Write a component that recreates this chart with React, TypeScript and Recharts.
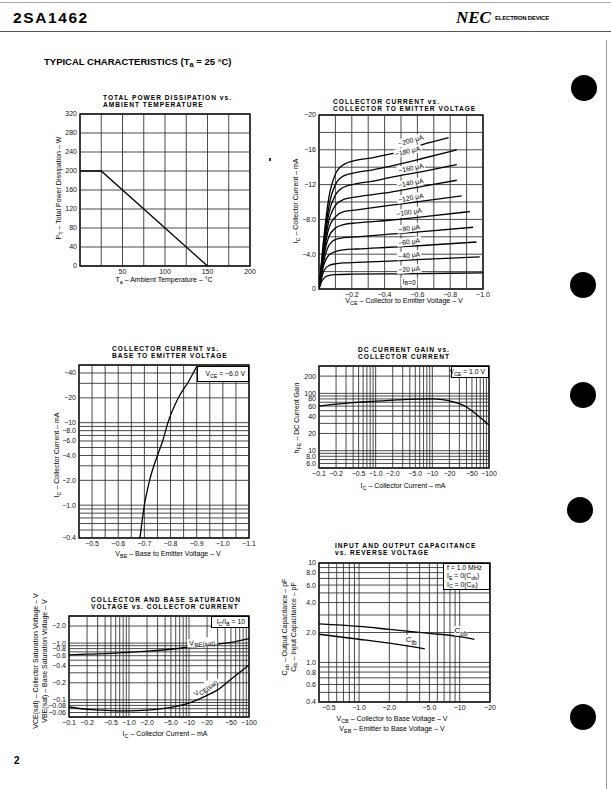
import React from "react";
import {
  ComposedChart,
  Line,
  XAxis,
  YAxis,
  ReferenceLine,
  ReferenceArea,
  ReferenceDot,
} from "recharts";

const FONT = '"Liberation Sans", Arial, Helvetica, sans-serif';

// NOTE: the device is PNP, every current/voltage on the sheet is negative.
// Values are kept as magnitudes and the tick labels carry the minus sign.

// ---- total power dissipation vs. ambient temperature
const TA_PT: [number, number][] = [[0, 200], [25, 200], [150, 0]];
const TA_TICKS = [50, 100, 150, 200];
const PT_TICKS = [0, 40, 80, 120, 160, 200, 240, 280, 320];
const TA_GRID = [0, 25, 50, 75, 100, 125, 150, 175, 200];

// ---- collector current vs. collector to emitter voltage
const VCE_TICKS = [0.2, 0.4, 0.6, 0.8, 1.0];
const VCE_LABELS = ["−0.2", "−0.4", "−0.6", "−0.8", "−1.0"];
const IC_TICKS = [0, 4, 8, 12, 16, 20];
const IC_LABELS = ["0", "−4.0", "−8.0", "−12", "−16", "−20"];
const VCE_GRID = [0, 0.1, 0.2, 0.3, 0.4, 0.5, 0.6, 0.7, 0.8, 0.9, 1.0];
const IC_GRID = [0, 2, 4, 6, 8, 10, 12, 14, 16, 18, 20];

const IB200: [number, number][] = [[0, 0], [0.03, 6], [0.06, 10.5], [0.1, 13.2], [0.15, 14.3], [0.23, 14.8], [0.33, 15.1], [0.43, 15.5], [0.63, 16.6], [0.79, 17.4]];
const IB180: [number, number][] = [[0, 0], [0.03, 5.5], [0.06, 9.5], [0.1, 12.0], [0.15, 13.0], [0.23, 13.4], [0.33, 13.7], [0.43, 14.1], [0.63, 15.0], [0.84, 16.0]];
const IB160: [number, number][] = [[0, 0], [0.03, 5], [0.06, 8.7], [0.1, 10.8], [0.15, 11.7], [0.23, 12.1], [0.33, 12.4], [0.43, 12.8], [0.63, 13.5], [0.84, 14.3]];
const IB140: [number, number][] = [[0, 0], [0.03, 4.6], [0.06, 7.8], [0.1, 9.6], [0.15, 10.3], [0.23, 10.6], [0.43, 11.1], [0.63, 11.8], [0.84, 12.5]];
const IB120: [number, number][] = [[0, 0], [0.03, 4.2], [0.06, 7], [0.1, 8.3], [0.15, 8.9], [0.23, 9.1], [0.43, 9.6], [0.63, 10.1], [0.87, 10.7]];
const IB100: [number, number][] = [[0, 0], [0.03, 3.8], [0.06, 6], [0.1, 7], [0.15, 7.4], [0.23, 7.6], [0.43, 7.9], [0.63, 8.3], [0.92, 8.9]];
const IB80: [number, number][] = [[0, 0], [0.03, 3.3], [0.06, 5], [0.1, 5.7], [0.15, 5.9], [0.23, 6.0], [0.43, 6.3], [0.63, 6.6], [0.94, 7.1]];
const IB60: [number, number][] = [[0, 0], [0.03, 2.8], [0.06, 3.9], [0.1, 4.3], [0.15, 4.5], [0.23, 4.6], [0.43, 4.8], [0.63, 5.0], [0.96, 5.4]];
const IB40: [number, number][] = [[0, 0], [0.03, 2.1], [0.06, 2.7], [0.1, 2.9], [0.15, 3.0], [0.23, 3.05], [0.43, 3.2], [0.63, 3.4], [0.98, 3.7]];
const IB20: [number, number][] = [[0, 0], [0.02, 1.0], [0.04, 1.4], [0.07, 1.6], [0.1, 1.65], [0.2, 1.7], [0.5, 1.75], [1.0, 1.85]];
const IB_CURVES = [IB200, IB180, IB160, IB140, IB120, IB100, IB80, IB60, IB40, IB20];
const IB_NAMES = ["−200 μA", "−180 μA", "−160 μA", "−140 μA", "−120 μA", "−100 μA", "−80 μA", "−60 μA", "−40 μA", "−20 μA"];
const IB_TAG_AT: [number, number][] = [[0.56, 17.1], [0.54, 15.85], [0.56, 13.9], [0.56, 12.2], [0.56, 10.5], [0.55, 8.85], [0.55, 7.0], [0.55, 5.45], [0.55, 3.9], [0.55, 2.3]];
const IB_TAG_ROT = [-15, -13, -12, -11, -10, -9, -8, -7, -6, -4];

// ---- collector current vs. base to emitter voltage (VCE = -6.0 V)
const VBE_IC: [number, number][] = [[0.683, 0.4], [0.7, 1.0], [0.72, 2.0], [0.75, 4.0], [0.77, 6.0], [0.79, 10], [0.83, 20], [0.87, 32], [0.9, 48]];
const VBE_TICKS = [0.5, 0.6, 0.7, 0.8, 0.9, 1.0, 1.1];
const VBE_LABELS = ["−0.5", "−0.6", "−0.7", "−0.8", "−0.9", "−1.0", "−1.1"];
const VBE_GRID = [0.45, 0.5, 0.55, 0.6, 0.65, 0.7, 0.75, 0.8, 0.85, 0.9, 0.95, 1.0, 1.05, 1.1];
const IC3_TICKS = [0.4, 1, 2, 4, 6, 8, 10, 20, 40];
const IC3_LABELS = ["−0.4", "−1.0", "−2.0", "−4.0", "−6.0", "−8.0", "−10", "−20", "−40"];

// ---- DC current gain vs. collector current (VCE = 1.0 V)
const IC_HFE: [number, number][] = [[0.1, 60], [0.2, 65], [0.35, 68], [0.5, 70], [1, 73], [2, 76], [3, 78], [5, 79.5], [10, 80], [15, 78], [20, 74], [30, 66], [40, 58], [60, 43], [80, 34], [100, 28]];
const IC_LOG_TICKS = [0.1, 0.2, 0.5, 1, 2, 5, 10, 20, 50, 100];
const IC_LOG_LABELS = ["−0.1", "−0.2", "−0.5", "−1.0", "−2.0", "−5.0", "−10", "−20", "−50", "−100"];
const HFE_TICKS = [6, 8, 10, 20, 40, 60, 80, 100, 200];
const HFE_LABELS = ["6.0", "8.0", "10", "20", "40", "60", "80", "100", "200"];

// ---- saturation voltages vs. collector current (IC/IB = 10)
const VBE_SAT: [number, number][] = [[0.1, 0.62], [0.2, 0.64], [0.5, 0.66], [1, 0.69], [2, 0.72], [5, 0.78], [10, 0.85], [20, 0.92], [50, 1.03], [100, 1.2]];
const VCE_SAT: [number, number][] = [[0.1, 0.075], [0.2, 0.068], [0.5, 0.065], [1, 0.064], [2, 0.066], [5, 0.074], [10, 0.088], [20, 0.12], [30, 0.15], [50, 0.23], [100, 0.41]];
const VSAT_TICKS = [0.06, 0.08, 0.1, 0.2, 0.4, 0.6, 0.8, 1, 2];
const VSAT_LABELS = ["−0.06", "−0.08", "−0.1", "−0.2", "−0.4", "−0.6", "−0.8", "−1.0", "−2.0"];

// ---- input / output capacitance vs. reverse voltage
const COB: [number, number][] = [[0.4, 2.44], [1, 2.3], [2, 2.15], [5, 1.96], [10, 1.82], [14, 1.71]];
const CIB: [number, number][] = [[0.4, 1.92], [1, 1.71], [2, 1.56], [4.5, 1.37]];
const VR_TICKS = [0.5, 1, 2, 5, 10, 20];
const VR_LABELS = ["−0.5", "−1.0", "−2.0", "−5.0", "−10", "−20"];
const CAP_TICKS = [0.4, 0.6, 0.8, 1, 2, 4, 6, 8, 10];
const CAP_LABELS = ["0.4", "0.6", "0.8", "1.0", "2.0", "4.0", "6.0", "8.0", "10"];

// log paper lines 1..9 per decade
const logGrid = (lo: number, hi: number) => {
  const out: number[] = [];
  for (let e = -3; e <= 3; e++)
    for (let m = 1; m <= 9; m++) {
      const v = Number((m * Math.pow(10, e)).toPrecision(6));
      if (v >= lo - 1e-9 && v <= hi + 1e-9) out.push(v);
    }
  return out;
};

const xy = (a: [number, number][]) => a.map(([x, y]) => ({ x, y }));

type Rect = { x: number; y: number; w: number; h: number };
type AxisSpec = {
  domain: [number, number];
  log?: boolean;
  ticks: number[];
  labels?: string[];
  grid: number[];
};

const YW = 36;
const XH = 14;
const PAD = { L: 44, T: 8, R: 14, B: 20 };

function Plot({ r, xa, ya, children }: { r: Rect; xa: AxisSpec; ya: AxisSpec; children?: React.ReactNode }) {
  const fmt = (a: AxisSpec) => (v: number) => {
    const i = a.ticks.indexOf(v);
    return a.labels && i >= 0 ? a.labels[i] : String(v);
  };
  const tick = { fontSize: 7, fill: "#111", fontFamily: FONT };
  return (
    <div style={{ position: "absolute", left: r.x - PAD.L, top: r.y - PAD.T }}>
      <ComposedChart
        width={r.w + PAD.L + PAD.R}
        height={r.h + PAD.T + PAD.B}
        margin={{ left: PAD.L - YW, top: PAD.T, right: PAD.R, bottom: PAD.B - XH }}
      >
        <XAxis
          type="number"
          dataKey="x"
          domain={xa.domain}
          scale={xa.log ? "log" : "linear"}
          allowDataOverflow
          ticks={xa.ticks}
          interval={0}
          tickFormatter={fmt(xa)}
          axisLine={false}
          tickLine={false}
          tickSize={2}
          tickMargin={1}
          height={XH}
          tick={tick}
        />
        <YAxis
          type="number"
          dataKey="y"
          domain={ya.domain}
          scale={ya.log ? "log" : "linear"}
          allowDataOverflow
          ticks={ya.ticks}
          interval={0}
          tickFormatter={fmt(ya)}
          axisLine={false}
          tickLine={false}
          tickSize={2}
          tickMargin={1}
          width={YW}
          tick={tick}
        />
        {xa.grid.map((v) => (
          <ReferenceLine key={"gx" + v} x={v} stroke="#2a2a2a" strokeWidth={0.85} />
        ))}
        {ya.grid.map((v) => (
          <ReferenceLine key={"gy" + v} y={v} stroke="#2a2a2a" strokeWidth={0.85} />
        ))}
        <ReferenceArea
          x1={xa.domain[0]}
          x2={xa.domain[1]}
          y1={ya.domain[0]}
          y2={ya.domain[1]}
          fill="none"
          fillOpacity={0}
          stroke="#000"
          strokeWidth={1.4}
        />
        {children}
      </ComposedChart>
    </div>
  );
}

// text placed on a data point (via ReferenceDot label), white patch behind it
function Tag(props: any) {
  const { viewBox, main, sub = "", tail = "", size = 6.8, subScale = 0.8, rot = 0, bg = true } = props;
  if (!viewBox) return null;
  const cx = viewBox.x + viewBox.width / 2;
  const cy = viewBox.y + viewBox.height / 2;
  const w = (main.length + sub.length * subScale + tail.length) * size * 0.55 + 2;
  return (
    <g transform={`rotate(${rot}, ${cx}, ${cy})`}>
      {bg ? <rect x={cx - w / 2} y={cy - size * 0.6} width={w} height={size * 1.2} fill="#fff" /> : null}
      <text
        x={cx}
        y={cy}
        textAnchor="middle"
        dominantBaseline="central"
        fontSize={size}
        fontFamily={FONT}
        fill="#000"
      >
        {main}
        {sub ? (
          <tspan fontSize={size * subScale} dy={size * 0.25}>
            {sub}
          </tspan>
        ) : null}
        {tail ? (
          <tspan fontSize={size} dy={-size * 0.25}>
            {tail}
          </tspan>
        ) : null}
      </text>
    </g>
  );
}

const curve = (key: string, pts: [number, number][], type: "monotone" | "linear" = "monotone") => (
  <Line
    key={key}
    data={xy(pts)}
    dataKey="y"
    type={type}
    stroke="#000"
    strokeWidth={1.3}
    dot={false}
    activeDot={false}
    isAnimationActive={false}
  />
);

const tag = (key: string, x: number, y: number, el: React.ReactElement) => (
  <ReferenceDot key={key} x={x} y={y} r={0} fill="none" stroke="none" label={el} />
);

const S = ({ children }: { children: React.ReactNode }) => (
  <span style={{ fontSize: "0.78em", position: "relative", top: "0.3em" }}>{children}</span>
);

function T({ x, y, children, size = 6.5, bold = false, ls = 0, center = false }: any) {
  return (
    <div
      style={{
        position: "absolute",
        left: x,
        top: y,
        fontSize: size,
        fontWeight: bold ? 700 : 400,
        letterSpacing: ls,
        whiteSpace: "nowrap",
        lineHeight: 1,
        fontFamily: FONT,
        transform: center ? "translateX(-50%)" : undefined,
      }}
    >
      {children}
    </div>
  );
}

function VT({ cx, cy, children, size = 7 }: any) {
  return (
    <div
      style={{
        position: "absolute",
        left: cx,
        top: cy,
        transform: "translate(-50%, -50%) rotate(-90deg)",
        fontSize: size,
        lineHeight: 1.25,
        whiteSpace: "nowrap",
        fontFamily: FONT,
        textAlign: "center",
      }}
    >
      {children}
    </div>
  );
}

function Title({ x, y, l1, l2 }: { x: number; y: number; l1: string; l2: string }) {
  return (
    <>
      <T x={x} y={y} bold size={6.6} ls={1}>{l1}</T>
      <T x={x} y={y + 7} bold size={6.6} ls={1}>{l2}</T>
    </>
  );
}

function Box({ x, y, w, h, children, align = "flex-end" }: any) {
  return (
    <div
      style={{
        position: "absolute",
        left: x,
        top: y,
        width: w,
        height: h,
        border: "1px solid #000",
        background: "#fff",
        boxSizing: "border-box",
        fontFamily: FONT,
        fontSize: 6.8,
        lineHeight: 1.2,
        padding: "0 3px",
        display: "flex",
        flexDirection: "column",
        justifyContent: "center",
        alignItems: align,
        whiteSpace: "nowrap",
      }}
    >
      {children}
    </div>
  );
}

const R1: Rect = { x: 80, y: 114, w: 170, h: 152 };
const R2: Rect = { x: 319, y: 115, w: 164, h: 174 };
const R3: Rect = { x: 79, y: 365, w: 170, h: 173 };
const R4: Rect = { x: 319, y: 366, w: 170, h: 102 };
const R5: Rect = { x: 69, y: 616, w: 180, h: 101 };
const R6: Rect = { x: 319, y: 563, w: 171, h: 139 };

const DOTS: [number, number][] = [[584, 88], [583, 285], [583, 395], [580, 510], [583, 717]];

export default function App() {
  return (
    <div
      style={{
        position: "absolute",
        left: 0,
        top: 0,
        width: 611,
        height: 789,
        background: "#fff",
        overflow: "hidden",
        fontFamily: FONT,
        color: "#000",
      }}
    >
      {/* page header */}
      <div style={{ position: "absolute", left: 0, top: 2, width: 611, height: 1, background: "#aaa" }} />
      <div style={{ position: "absolute", left: 0, top: 31, width: 611, height: 1, background: "#555" }} />
      <div style={{ position: "absolute", left: 13, top: 9, fontFamily: FONT, fontWeight: 700, fontSize: 15.5, letterSpacing: 1.6 }}>
        2SA1462
      </div>
      <div style={{ position: "absolute", left: 456, top: 8, fontFamily: '"Liberation Serif", serif', fontStyle: "italic", fontWeight: 700, fontSize: 17 }}>
        NEC
      </div>
      <T x={495} y={15} bold size={6} ls={-0.2}>ELECTRON DEVICE</T>
      <T x={44} y={57} bold size={9.5}>
        TYPICAL CHARACTERISTICS (T<S>a</S> = 25 °C)
      </T>
      <div style={{ position: "absolute", left: 606, top: 40, width: 1, height: 749, background: "#999" }} />
      {DOTS.map(([x, y]) => (
        <div key={"d" + y} style={{ position: "absolute", left: x - 13, top: y - 13, width: 26, height: 26, borderRadius: 13, background: "#000" }} />
      ))}
      <div style={{ position: "absolute", left: 269, top: 158, width: 2, height: 3, background: "#333" }} />
      <T x={14} y={756} bold size={10}>2</T>

      {/* 1: PT vs Ta */}
      <Title x={103} y={95} l1="TOTAL POWER DISSIPATION vs." l2="AMBIENT TEMPERATURE" />
      <Plot
        r={R1}
        xa={{ domain: [0, 200], ticks: TA_TICKS, grid: TA_GRID }}
        ya={{ domain: [0, 320], ticks: PT_TICKS, grid: PT_TICKS }}
      >
        {curve("pt", TA_PT, "linear")}
      </Plot>
      <T x={164} y={276} center size={7}>T<S>a</S> – Ambient Temperature – °C</T>
      <VT cx={59} cy={188}>P<S>T</S> – Total Power Dissipation – W</VT>

      {/* 2: IC vs VCE */}
      <Title x={333} y={99} l1="COLLECTOR CURRENT vs." l2="COLLECTOR TO EMITTER VOLTAGE" />
      <Plot
        r={R2}
        xa={{ domain: [0, 1], ticks: VCE_TICKS, labels: VCE_LABELS, grid: VCE_GRID }}
        ya={{ domain: [0, 20], ticks: IC_TICKS, labels: IC_LABELS, grid: IC_GRID }}
      >
        {IB_CURVES.map((c, i) => curve("ib" + i, c))}
        {IB_TAG_AT.map(([x, y], i) => tag("ibt" + i, x, y, <Tag main={IB_NAMES[i]} rot={IB_TAG_ROT[i]} />))}
        {tag("ib0", 0.55, 0.85, <Tag main="I" sub="B" tail="=0" />)}
      </Plot>
      <T x={404} y={297} center size={7}>V<S>CE</S> – Collector to Emitter Voltage – V</T>
      <VT cx={296} cy={201}>I<S>C</S> – Collector Current – mA</VT>

      {/* 3: IC vs VBE */}
      <Title x={112} y={346} l1="COLLECTOR CURRENT vs." l2="BASE TO EMITTER VOLTAGE" />
      <Plot
        r={R3}
        xa={{ domain: [0.45, 1.1], ticks: VBE_TICKS, labels: VBE_LABELS, grid: VBE_GRID }}
        ya={{ domain: [0.4, 50], log: true, ticks: IC3_TICKS, labels: IC3_LABELS, grid: logGrid(0.4, 50) }}
      >
        {curve("vbe", VBE_IC)}
      </Plot>
      <Box x={197} y={366} w={52} h={16}>
        <span>V<S>CE</S> = −6.0 V</span>
      </Box>
      <T x={168} y={550} center size={7}>V<S>BE</S> – Base to Emitter Voltage – V</T>
      <VT cx={57} cy={455}>I<S>C</S> – Collector Current – mA</VT>

      {/* 4: hFE vs IC */}
      <Title x={358} y={347} l1="DC CURRENT GAIN vs." l2="COLLECTOR CURRENT" />
      <Plot
        r={R4}
        xa={{ domain: [0.1, 100], log: true, ticks: IC_LOG_TICKS, labels: IC_LOG_LABELS, grid: logGrid(0.1, 100) }}
        ya={{ domain: [5, 300], log: true, ticks: HFE_TICKS, labels: HFE_LABELS, grid: logGrid(5, 300) }}
      >
        {curve("hfe", IC_HFE)}
      </Plot>
      <Box x={451} y={366} w={38} h={12}>
        <span>V<S>CE</S> = 1.0 V</span>
      </Box>
      <T x={403} y={482} center size={7}>I<S>C</S> – Collector Current – mA</T>
      <VT cx={297} cy={418}>h<S>FE</S> – DC Current Gain</VT>

      {/* 5: saturation voltages */}
      <Title x={91} y={597} l1="COLLECTOR AND BASE SATURATION" l2="VOLTAGE vs. COLLECTOR CURRENT" />
      <Plot
        r={R5}
        xa={{ domain: [0.1, 100], log: true, ticks: IC_LOG_TICKS, labels: IC_LOG_LABELS, grid: logGrid(0.1, 100) }}
        ya={{ domain: [0.05, 3], log: true, ticks: VSAT_TICKS, labels: VSAT_LABELS, grid: logGrid(0.05, 3) }}
      >
        {curve("vbesat", VBE_SAT)}
        {curve("vcesat", VCE_SAT)}
        {tag("tvbe", 16.5, 1.05, <Tag main="V" sub="BE(sat)" size={7} subScale={0.9} rot={-6} />)}
        {tag("tvce", 18.5, 0.168, <Tag main="V" sub="CE(sat)" size={7} subScale={0.9} rot={-35} />)}
      </Plot>
      <Box x={211} y={616} w={38} h={12}>
        <span>I<S>C</S>/I<S>B</S> = 10</span>
      </Box>
      <T x={165} y={730} center size={7}>I<S>C</S> – Collector Current – mA</T>
      <VT cx={41} cy={661}>
        <div>VCE(sat) – Collector Saturation Voltage – V</div>
        <div>VBE(sat) – Base Saturation Voltage – V</div>
      </VT>

      {/* 6: capacitance */}
      <Title x={335} y={543} l1="INPUT AND OUTPUT CAPACITANCE" l2="vs. REVERSE VOLTAGE" />
      <Plot
        r={R6}
        xa={{ domain: [0.4, 20], log: true, ticks: VR_TICKS, labels: VR_LABELS, grid: logGrid(0.4, 20) }}
        ya={{ domain: [0.4, 10], log: true, ticks: CAP_TICKS, labels: CAP_LABELS, grid: logGrid(0.4, 10) }}
      >
        {curve("cob", COB)}
        {curve("cib", CIB)}
        {tag("tcob", 10.3, 2.08, <Tag main="C" sub="ob" size={8} />)}
        {tag("tcib", 3.3, 1.69, <Tag main="C" sub="ib" size={8} />)}
      </Plot>
      <Box x={443} y={563} w={47} h={27} align="flex-start">
        <span>f = 1.0 MHz</span>
        <span>I<S>E</S> = 0(C<S>ob</S>)</span>
        <span>I<S>C</S> = 0(C<S>ib</S>)</span>
      </Box>
      <T x={392} y={715} center size={7}>V<S>CB</S> – Collector to Base Voltage – V</T>
      <T x={392} y={725} center size={7}>V<S>EB</S> – Emitter to Base Voltage – V</T>
      <VT cx={290} cy={627}>
        <div>C<S>ob</S> – Output Capacitance – pF</div>
        <div>C<S>ib</S> – Input Capacitance – pF</div>
      </VT>
    </div>
  );
}
